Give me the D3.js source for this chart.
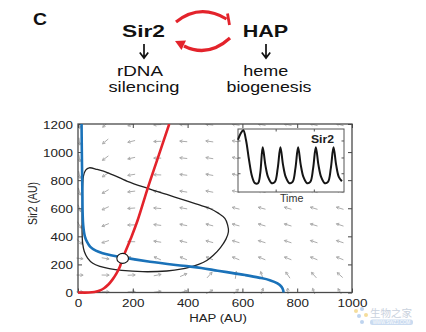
<!DOCTYPE html>
<html><head><meta charset="utf-8">
<script src="https://cdn.jsdelivr.net/npm/d3@7"></script>
<style>body{margin:0;background:#fff}svg{display:block}</style>
</head><body><svg id="c" width="426" height="332"></svg>
<script>
// ---- data ----
const hapTicks = [0, 200, 400, 600, 800, 1000];
const sir2Ticks = [0, 200, 400, 600, 800, 1000, 1200];

// Sir2 nullcline (red)
const redHAP  = [0, 40, 60, 80, 95, 110, 125, 140, 152, 163, 178, 193, 218, 254, 290, 333];
const redSir2 = [0, 0, 4, 14, 30, 55, 90, 135, 180, 243, 315, 386, 516, 740, 950, 1200];

// HAP nullcline (blue)
const blueHAP  = [13, 14, 15, 16, 17, 19, 25, 33, 45, 65, 90, 120, 163, 263, 384, 450, 510, 560, 610, 660, 700, 728, 743, 749, 750];
const blueSir2 = [1200, 1000, 850, 700, 560, 480, 400, 360, 325, 298, 280, 266, 250, 219, 190, 175, 155, 140, 124, 106, 88, 65, 40, 15, 0];

// limit cycle (black)
const cycleHAP  = [41, 28, 20, 17, 16, 15, 15, 17, 23, 35, 54, 80, 114, 160, 236, 324, 380, 409, 440, 470, 494, 520, 540, 549, 546, 536, 512, 479, 440, 400, 324, 254, 180, 114, 70];
const cycleSir2 = [888, 872, 830, 760, 650, 530, 420, 350, 292, 245, 208, 186, 170, 157, 148, 153, 168, 182, 200, 228, 265, 320, 380, 433, 482, 528, 565, 600, 625, 650, 698, 742, 792, 849, 876];

// unstable fixed point
const fixedHAP = [163];
const fixedSir2 = [243];

// vector field grid and arrow directions (degrees, 0 = +HAP, 90 = +Sir2)
const gridHAP  = [5, 100, 195, 290, 385, 480, 576, 671, 766, 861, 956];
const gridSir2 = [1195, 1076, 957, 838, 719, 600, 481, 362, 243, 124, 5];
const arrowAngles = [
  [-85, -137, -163, -177, 177, 173, 170, 168, 167, 166, 165],
  [-83, -140, -166, -178, 175, 172, 169, 168, 166, 165, 165],
  [-81, -143, -168, 180, 174, 171, 168, 167, 166, 165, 164],
  [-79, -147, -171, 178, 173, 170, 168, 166, 165, 164, 164],
  [-75, -150, -173, 176, 171, 169, 167, 165, 164, 164, 163],
  [-70, -155, -176, 175, 170, 168, 166, 165, 164, 163, 163],
  [-60, -158, -179, 173, 169, 166, 165, 164, 163, 163, 162],
  [-43, -162, 179, 171, 167, 165, 164, 163, 162, 162, 162],
  [-6, -10, 154, 157, 158, 158, 158, 158, 158, 158, 158],
  [-1, -1, 3, 11, 24, 48, 82, 109, 124, 132, 138],
  [0, 0, 3, 8, 16, 28, 46, 70, 94, 111, 122]
];

// inset: Sir2 vs time
const insetTime = [0, 2.5, 5, 7.5, 10.4, 13.2, 16, 18.9, 21, 23.3, 25.8, 28.3, 31.8, 34.8, 37.5, 40, 42.5, 45, 48.5, 51.5, 54.2, 56.7, 59.2, 61.7, 65.2, 68.2, 70.9, 73.4, 75.9, 78.4, 81.9, 84.9, 87.6, 90.1, 92.6, 95.1, 98];
const insetSir2 = [.83, .93, .98, .83, .51, .25, .14, .14, .30, .71, .43, .24, .14, .16, .38, .71, .43, .24, .14, .16, .38, .71, .43, .24, .14, .16, .38, .71, .43, .24, .14, .16, .38, .71, .43, .24, .17];
const insetYTicks = [0.29, 0.54, 0.81];
const insetXTicks = [36, 72];

// ---- drawing ----
const FONT = "'Liberation Sans', Arial, Helvetica, sans-serif";
const svg = d3.select('#c');
svg.append('rect').attr('width', 426).attr('height', 332).attr('fill', '#fff');

const RED = '#e3232b', BLUE = '#1a72b9';

// top diagram
const diag = svg.append('g');
function txt(t, cx, by, size, len, weight) {
  diag.append('text').attr('x', cx).attr('y', by).attr('text-anchor', 'middle')
    .attr('font-family', FONT).attr('font-size', size).attr('font-weight', weight || 'normal')
    .attr('textLength', len).attr('lengthAdjust', 'spacingAndGlyphs').attr('fill', '#111').text(t);
}
txt('C', 40, 25, 16.5, 14, 'bold');
txt('Sir2', 143.5, 36.5, 16.5, 43, 'bold');
txt('HAP', 265.5, 36.5, 16.5, 45.5, 'bold');
txt('rDNA', 140, 76, 14.5, 46);
txt('silencing', 144, 92, 14.5, 71);
txt('heme', 265.7, 76, 14.5, 45);
txt('biogenesis', 269, 92, 14.5, 85);
[144, 266].forEach(cx => {
  diag.append('path').attr('d', `M${cx},44 L${cx},57.5 M${cx-4.2},52.5 L${cx},58 L${cx+4.2},52.5`)
    .attr('fill', 'none').attr('stroke', '#111').attr('stroke-width', 1.7);
});
diag.append('path').attr('d', 'M176,22 Q200,3 226.5,19').attr('fill', 'none').attr('stroke', RED).attr('stroke-width', 3.2);
diag.append('path').attr('d', 'M227.5,13.5 L229.5,25').attr('stroke', RED).attr('stroke-width', 2.8);
diag.append('path').attr('d', 'M230,38 Q208,58 184,46').attr('fill', 'none').attr('stroke', RED).attr('stroke-width', 3.2);
diag.append('path').attr('d', 'M175,41 L186,40.5 L181.5,50 Z').attr('fill', RED);

// main plot
const x = d3.scaleLinear().domain([0, 1000]).range([78, 352]);
const y = d3.scaleLinear().domain([0, 1200]).range([292.5, 124]);

svg.append('clipPath').attr('id', 'clip').append('rect')
  .attr('x', x(0) - 1.5).attr('y', y(1200)).attr('width', x(1000) - x(0) + 3).attr('height', y(0) - y(1200) + 1.5);

// vector field
const field = svg.append('g').attr('clip-path', 'url(#clip)');
const L = 7.5, H = 3;
gridSir2.forEach((s, i) => {
  gridHAP.forEach((h, j) => {
    const a = arrowAngles[i][j] * Math.PI / 180;
    const dx = Math.cos(a), dy = -Math.sin(a);
    const cx = x(h), cy = y(s);
    const tx = cx - dx * L / 2, ty = cy - dy * L / 2;
    const px = cx + dx * L / 2, py = cy + dy * L / 2;
    const b1 = a + Math.PI - 0.5, b2 = a + Math.PI + 0.5;
    const d = `M${tx},${ty}L${px},${py}M${px + Math.cos(b1) * H},${py - Math.sin(b1) * H}L${px},${py}L${px + Math.cos(b2) * H},${py - Math.sin(b2) * H}`;
    field.append('path').attr('d', d).attr('fill', 'none').attr('stroke', '#acacac').attr('stroke-width', 1);
  });
});

// axes
const axisColor = '#444';
function styleAxis(g) {
  g.select('.domain').remove();
  g.selectAll('line').attr('stroke', axisColor).attr('stroke-width', 1);
  g.selectAll('text').attr('font-family', FONT).attr('font-size', 11.2).attr('fill', '#222');
}
const fmt = d3.format('d');
const gx = svg.append('g').attr('transform', `translate(0,${y(0)})`)
  .call(d3.axisBottom(x).tickValues(hapTicks).tickFormat(fmt).tickSizeInner(-4).tickSizeOuter(0).tickPadding(6.5));
styleAxis(gx);
gx.selectAll('text').attr('transform', 'scale(1.2,1)');
const gy = svg.append('g').attr('transform', `translate(${x(0)},0)`)
  .call(d3.axisLeft(y).tickValues(sir2Ticks).tickFormat(fmt).tickSizeInner(-4).tickSizeOuter(0).tickPadding(4.2));
styleAxis(gy);
gy.selectAll('text').attr('transform', 'scale(1.2,1)').attr('dy', '0.4em');
const gt = svg.append('g').attr('transform', `translate(0,${y(1200)})`)
  .call(d3.axisTop(x).tickValues(hapTicks).tickSizeInner(-4).tickSizeOuter(0).tickFormat(''));
styleAxis(gt);
const gr = svg.append('g').attr('transform', `translate(${x(1000)},0)`)
  .call(d3.axisRight(y).tickValues(sir2Ticks).tickSizeInner(-4).tickSizeOuter(0).tickFormat(''));
styleAxis(gr);
svg.append('rect').attr('x', x(0)).attr('y', y(1200)).attr('width', x(1000) - x(0)).attr('height', y(0) - y(1200))
  .attr('fill', 'none').attr('stroke', '#4a4a4a').attr('stroke-width', 1.3);

// axis titles
svg.append('g').attr('transform', 'translate(218,322) scale(1.2,1)').append('text')
  .attr('text-anchor', 'middle').attr('font-family', FONT).attr('font-size', 11).attr('fill', '#222').text('HAP (AU)');
svg.append('g').attr('transform', 'translate(36.5,203.5) rotate(-90) scale(1,1.2)').append('text')
  .attr('text-anchor', 'middle').attr('font-family', FONT).attr('font-size', 10.5).attr('fill', '#222').text('Sir2 (AU)');

// curves
const curves = svg.append('g').attr('clip-path', 'url(#clip)');
const cyc = cycleHAP.map((h, i) => [x(h), y(cycleSir2[i])]);
curves.append('path').attr('d', d3.line().curve(d3.curveCatmullRomClosed.alpha(0.5))(cyc))
  .attr('fill', 'none').attr('stroke', '#222').attr('stroke-width', 1.3);
const blue = blueHAP.map((h, i) => [x(h), y(blueSir2[i])]);
curves.append('path').attr('d', d3.line().curve(d3.curveCatmullRom.alpha(0.5))(blue))
  .attr('fill', 'none').attr('stroke', BLUE).attr('stroke-width', 2.6);
const red = redHAP.map((h, i) => [x(h), y(redSir2[i])]);
curves.append('path').attr('d', d3.line().curve(d3.curveCatmullRom.alpha(0.5))(red))
  .attr('fill', 'none').attr('stroke', RED).attr('stroke-width', 2.6);
svg.selectAll('ellipse.fp').data(fixedHAP).enter().append('ellipse').attr('class', 'fp')
  .attr('cx', d => x(d)).attr('cy', (d, i) => y(fixedSir2[i])).attr('rx', 5.8).attr('ry', 5)
  .attr('fill', '#fff').attr('stroke', '#111').attr('stroke-width', 1.1);

// inset
const ix = d3.scaleLinear().domain([0, 100]).range([238, 344]);
const iy = d3.scaleLinear().domain([0, 1]).range([192, 129]);
svg.append('rect').attr('x', ix(0)).attr('y', iy(1)).attr('width', ix(100) - ix(0)).attr('height', iy(0) - iy(1))
  .attr('fill', '#fff').attr('stroke', '#555').attr('stroke-width', 1);
const ins = svg.append('g');
insetYTicks.forEach(v => {
  ins.append('line').attr('x1', ix(0)).attr('x2', ix(0) + 2.5).attr('y1', iy(v)).attr('y2', iy(v)).attr('stroke', '#555');
  ins.append('line').attr('x1', ix(100)).attr('x2', ix(100) - 2.5).attr('y1', iy(v)).attr('y2', iy(v)).attr('stroke', '#555');
});
insetXTicks.forEach(t => {
  ins.append('line').attr('x1', ix(t)).attr('x2', ix(t)).attr('y1', iy(0)).attr('y2', iy(0) - 2.5).attr('stroke', '#555');
  ins.append('line').attr('x1', ix(t)).attr('x2', ix(t)).attr('y1', iy(1)).attr('y2', iy(1) + 2.5).attr('stroke', '#555');
});
const ipts = insetTime.map((t, i) => [ix(t), iy(insetSir2[i])]);
ins.append('path').attr('d', d3.line().curve(d3.curveCatmullRom.alpha(0.5))(ipts))
  .attr('fill', 'none').attr('stroke', '#151515').attr('stroke-width', 2);
ins.append('text').attr('x', 322.5).attr('y', 142.5).attr('text-anchor', 'middle').attr('font-family', FONT)
  .attr('font-size', 10).attr('font-weight', 'bold').attr('textLength', 23).attr('lengthAdjust', 'spacingAndGlyphs')
  .attr('fill', '#222').text('Sir2');
ins.append('text').attr('x', 291.7).attr('y', 202).attr('text-anchor', 'middle').attr('font-family', FONT)
  .attr('font-size', 10.5).attr('textLength', 23.5).attr('lengthAdjust', 'spacingAndGlyphs')
  .attr('fill', '#333').text('Time');

// watermark (kept clear of the tick labels)
const wm = svg.append('g').attr('opacity', 0.75);
wm.append('text').attr('x', 370).attr('y', 316.5).attr('font-family', "'Noto Sans CJK SC', sans-serif")
  .attr('font-size', 10.5).attr('textLength', 42).attr('fill', '#b7c3d3').text('生物之家');
wm.append('rect').attr('x', 370).attr('y', 319.5).attr('width', 43).attr('height', 5.5).attr('rx', 2.5).attr('fill', '#b9cfeb');
wm.append('text').attr('x', 391.5).attr('y', 324.3).attr('text-anchor', 'middle').attr('font-family', FONT)
  .attr('font-size', 4.5).attr('fill', '#fff').text('WWW.SWZJ.COM');
[[356, 311, '#f2d27a'], [362, 309, '#a9c6ea'], [359, 316, '#a9c6ea'], [366, 315, '#f2d27a'], [362, 322, '#a9c6ea']].forEach(c => {
  wm.append('circle').attr('cx', c[0]).attr('cy', c[1]).attr('r', 2).attr('fill', c[2]);
});
</script></body></html>
